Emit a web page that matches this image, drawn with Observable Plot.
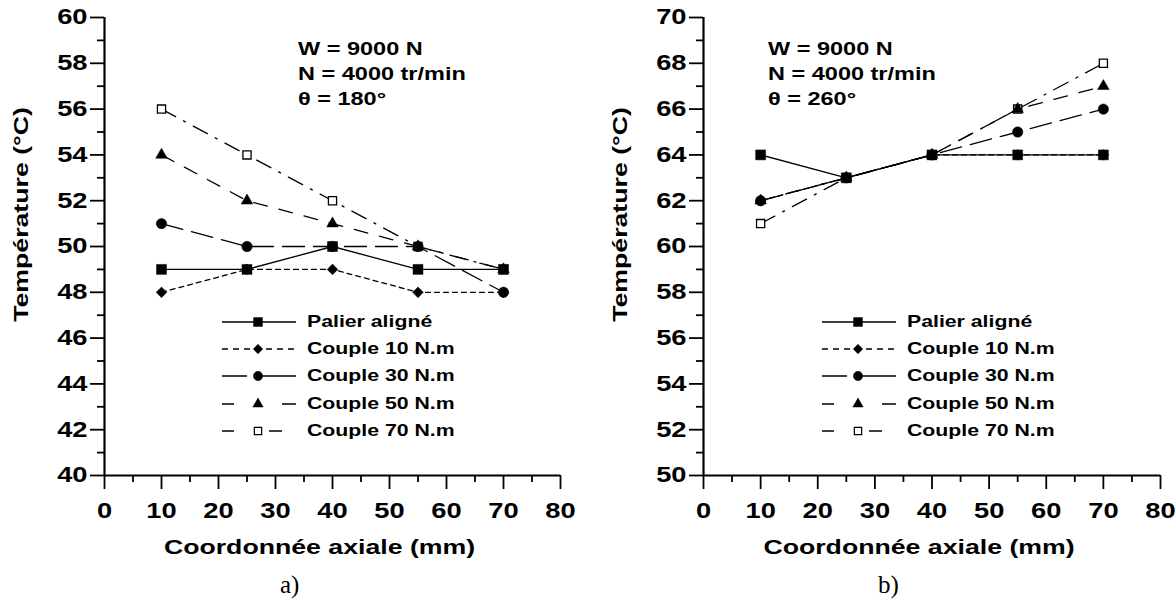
<!DOCTYPE html>
<html>
<head>
<meta charset="utf-8">
<script src="https://cdn.jsdelivr.net/npm/d3@7"></script>
<script src="https://cdn.jsdelivr.net/npm/@observablehq/plot@0.6"></script>
<style>
  html, body { margin: 0; padding: 0; background: #fff; }
  body { width: 1176px; height: 606px; position: relative; overflow: hidden; font-family: "Liberation Sans", Arial, sans-serif; }
  .panel { position: absolute; top: 0; }
  .ann { position: absolute; font-weight: bold; font-size: 18.5px; line-height: 25px; color: #000; white-space: nowrap; transform: scaleX(1.27); transform-origin: left top; }
  .leg { position: absolute; font-weight: bold; font-size: 17px; color: #000; }
  .leg .row { height: 27.3px; display: flex; align-items: center; white-space: nowrap; }
  .leg svg { margin-right: 11px; flex: none; }
  .leg span { display: inline-block; transform: scaleX(1.25); transform-origin: left center; }
  .tag { position: absolute; font-family: "Liberation Serif", "Times New Roman", serif; font-size: 25px; line-height: 25px; }
</style>
</head>
<body>
<script>
// ---- Data ----
const xPos = [10, 25, 40, 55, 70];
const seriesNames = ["Palier aligné", "Couple 10 N.m", "Couple 30 N.m", "Couple 50 N.m", "Couple 70 N.m"];
// Panel a) theta = 180°
const a_palier = [49, 49, 50, 49, 49];
const a_c10 = [48, 49, 49, 48, 48];
const a_c30 = [51, 50, 50, 50, 48];
const a_c50 = [54, 52, 51, 50, 49];
const a_c70 = [56, 54, 52, 50, 49];
// Panel b) theta = 260°
const b_palier = [64, 63, 64, 64, 64];
const b_c10 = [62, 63, 64, 64, 64];
const b_c30 = [62, 63, 64, 65, 66];
const b_c50 = [62, 63, 64, 66, 67];
const b_c70 = [61, 63, 64, 66, 68];
const xTicks = [0, 10, 20, 30, 40, 50, 60, 70, 80];
const aYTicks = [40, 42, 44, 46, 48, 50, 52, 54, 56, 58, 60];
const bYTicks = [50, 52, 54, 56, 58, 60, 62, 64, 66, 68, 70];
const xTitle = "Coordonnée axiale (mm)";
const yTitle = "Température (°C)";
const annotA = ["W = 9000 N", "N = 4000 tr/min", "θ = 180°"];
const annotB = ["W = 9000 N", "N = 4000 tr/min", "θ = 260°"];
const tags = ["a)", "b)"];

// ---- Styles ----
const STRETCH = 1.27;
const styles = [
  {dash: null, legDash: null, symbol: "square", r: 5.6, fill: "black"},
  {dash: "5,4", legDash: "6,5", symbol: "diamond2", r: 4.8, fill: "black"},
  {dash: "22,9", legDash: "25,13,40", symbol: "circle", r: 5.2, fill: "black"},
  {dash: "14,12", legDash: "12,48,14", symbol: "triangle", r: 4.3, fill: "black"},
  {dash: "16,9,2,9", legDash: "12,35,13,20", symbol: "square", r: 4.6, fill: "white"}
];

function table(vals) {
  return vals.map((v, si) => xPos.map((x, i) => ({x, y: v[i], s: si}))).flat();
}

const H = 606, TOP = 17, AXIS_Y = 475;

function makePlot(vals, yDomain, yTicks, marginLeft, marginRight, width) {
  const data = table(vals);
  const marks = [];
  for (let si = styles.length - 1; si >= 0; si--) {
    const d = data.filter(p => p.s === si);
    marks.push(Plot.line(d, {x: "x", y: "y", stroke: "black", strokeWidth: 1.3, strokeDasharray: styles[si].dash}));
  }
  for (let si = styles.length - 1; si >= 0; si--) {
    const d = data.filter(p => p.s === si);
    marks.push(Plot.dot(d, {x: "x", y: "y", symbol: () => styles[si].symbol, r: styles[si].r, fill: styles[si].fill, stroke: "black", strokeWidth: si === 4 ? 1.3 : 0.5}));
  }
  marks.push(Plot.ruleX([0], {x: d => d, stroke: "black", strokeWidth: 2.2}));
  marks.push(Plot.ruleY([yDomain[0]], {y: d => d, stroke: "black", strokeWidth: 2.2}));
  marks.push(Plot.axisX(xTicks, {tickSize: 14, tickPadding: 13, strokeWidth: 1.8, label: null, fontSize: 21.5, fontWeight: "bold"}));
  marks.push(Plot.axisX(d3.range(5, 80, 10), {tickSize: 7, strokeWidth: 1.8, text: null, label: null}));
  marks.push(Plot.axisY(yTicks, {tickSize: 14, tickPadding: 3, strokeWidth: 1.8, label: null, fontSize: 21.5, fontWeight: "bold"}));
  marks.push(Plot.axisY(d3.range(yDomain[0] + 1, yDomain[1], 2), {tickSize: 7, strokeWidth: 1.8, text: null, label: null}));
  const fcy = (TOP + AXIS_Y) / 2;
  marks.push(Plot.text([xTitle], {frameAnchor: "bottom", text: d => d, dy: 72, dx: -13, fontSize: 21, fontWeight: "bold", lineAnchor: "middle", textAnchor: "middle"}));
  marks.push(Plot.text([yTitle], {frameAnchor: "left", text: d => d, rotate: -90, dx: -83, dy: 214 - fcy, fontSize: 21, fontWeight: "bold", textAnchor: "middle", lineAnchor: "middle"}));
  return Plot.plot({
    width, height: H,
    marginLeft, marginRight, marginTop: TOP, marginBottom: H - AXIS_Y,
    x: {domain: [0, 80]},
    y: {domain: yDomain},
    style: {fontFamily: "Liberation Sans, Arial, sans-serif", fontWeight: "bold", fontSize: "21.5px", color: "black", background: "white", overflow: "visible"},
    marks
  });
}

// stretch all texts horizontally along their own direction, about their anchor point
function stretchTexts(svg) {
  svg.querySelectorAll("text").forEach(t => {
    const tr = t.getAttribute("transform");
    if (tr) {
      t.setAttribute("transform", tr + ` scale(${STRETCH},1)`);
    } else {
      const x = +(t.getAttribute("x") || 0), y = +(t.getAttribute("y") || 0);
      t.setAttribute("transform", `translate(${x},${y}) scale(${STRETCH},1) translate(${-x},${-y})`);
    }
  });
}

function legendHTML(left, top) {
  const div = document.createElement("div");
  div.className = "leg";
  div.style.left = left + "px";
  div.style.top = top + "px";
  const symMap = {square: d3.symbolSquare, diamond2: d3.symbolDiamond2, circle: d3.symbolCircle, triangle: d3.symbolTriangle};
  styles.forEach((st, i) => {
    const row = document.createElement("div");
    row.className = "row";
    const svg = d3.create("svg").attr("width", 74).attr("height", 14);
    svg.append("line").attr("x1", 0).attr("x2", 74).attr("y1", 7).attr("y2", 7).attr("stroke", "black").attr("stroke-width", 1.3)
      .attr("stroke-dasharray", st.legDash);
    const sym = d3.symbol().type(symMap[st.symbol]).size(Math.PI * st.r * st.r * 0.8);
    svg.append("path").attr("d", sym()).attr("transform", "translate(36,7)").attr("fill", st.fill).attr("stroke", "black").attr("stroke-width", i === 4 ? 1.2 : 0.5);
    row.appendChild(svg.node());
    const t = document.createElement("span");
    t.textContent = seriesNames[i];
    row.appendChild(t);
    div.appendChild(row);
  });
  return div;
}

function annHTML(lines, left, top) {
  const div = document.createElement("div");
  div.className = "ann";
  div.style.left = left + "px";
  div.style.top = top + "px";
  div.innerHTML = lines.join("<br>");
  return div;
}

function tagHTML(text, left, top) {
  const d = document.createElement("div");
  d.className = "tag";
  d.style.left = left + "px";
  d.style.top = top + "px";
  d.textContent = text;
  return d;
}

const pa = makePlot([a_palier, a_c10, a_c30, a_c50, a_c70], [40, 60], aYTicks, 104, 28, 588);
const pb = makePlot([b_palier, b_c10, b_c30, b_c50, b_c70], [50, 70], bYTicks, 115, 16, 588);
const wa = document.createElement("div"); wa.className = "panel"; wa.style.left = "0px"; wa.appendChild(pa);
const wb = document.createElement("div"); wb.className = "panel"; wb.style.left = "588px"; wb.appendChild(pb);
document.body.appendChild(wa);
document.body.appendChild(wb);
stretchTexts(pa);
stretchTexts(pb);
document.body.appendChild(annHTML(annotA, 298, 36));
document.body.appendChild(annHTML(annotB, 768, 36));
document.body.appendChild(legendHTML(222, 308));
document.body.appendChild(legendHTML(822, 308));
document.body.appendChild(tagHTML(tags[0], 280, 572));
document.body.appendChild(tagHTML(tags[1], 878, 572));
</script>
</body>
</html>
